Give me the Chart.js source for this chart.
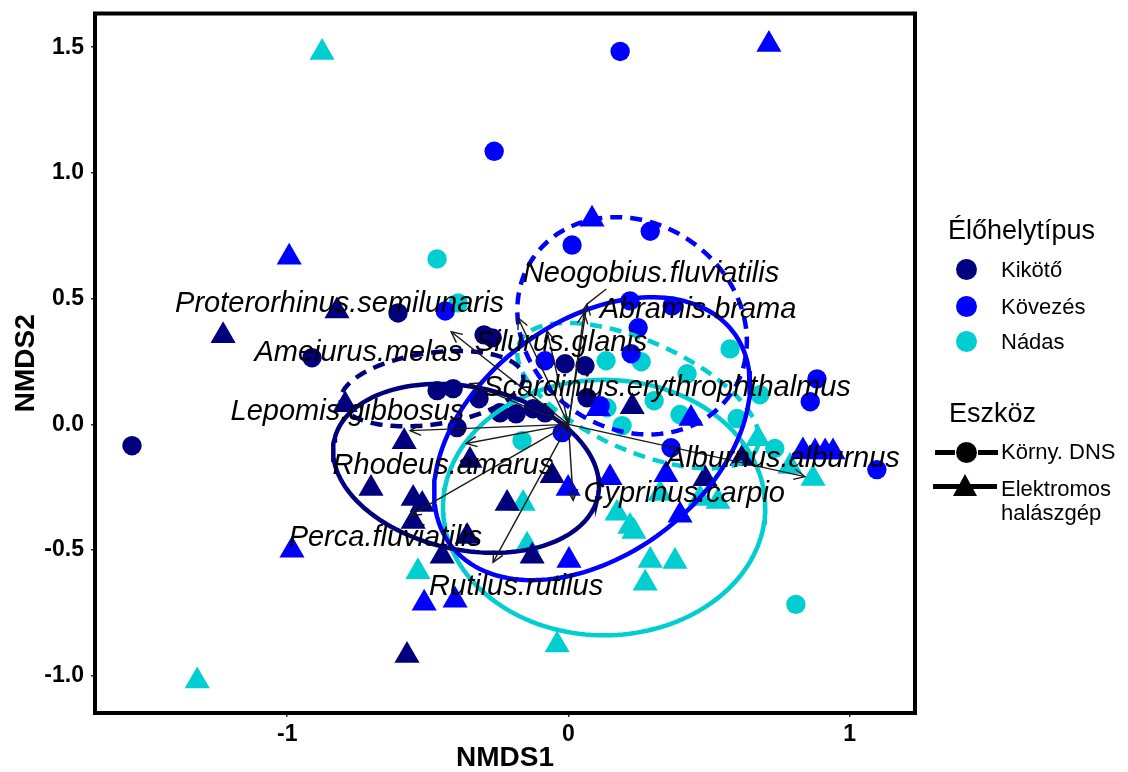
<!DOCTYPE html>
<html>
<head>
<meta charset="utf-8">
<script src="https://cdn.jsdelivr.net/npm/chart.js@4.4.1/dist/chart.umd.min.js"></script>
<style>
html,body{margin:0;padding:0;background:#fff;}
#wrap{position:relative;width:1128px;height:772px;overflow:hidden;}
#c{position:absolute;left:0;top:0;}
.lg{position:absolute;font-family:"Liberation Sans",Arial,sans-serif;color:#000;white-space:nowrap;}
.lt{font-size:27px;line-height:28px;}
.li{font-size:22px;line-height:24px;}
.dot{position:absolute;width:21px;height:21px;border-radius:50%;}
.bar{position:absolute;height:5px;background:#000;}
.tri{position:absolute;width:0;height:0;border-left:12.5px solid transparent;border-right:12.5px solid transparent;border-bottom:22px solid #000;}
</style>
</head>
<body>
<div id="wrap">
<canvas id="c" width="1128" height="772"></canvas>
<div class="lg lt" style="left:948px;top:216px;">Élőhelytípus</div>
<div class="dot" style="left:956px;top:259px;background:#00007f;"></div>
<div class="lg li" style="left:1001px;top:258px;">Kikötő</div>
<div class="dot" style="left:956px;top:296px;background:#0000ff;"></div>
<div class="lg li" style="left:1001px;top:295px;">Kövezés</div>
<div class="dot" style="left:956px;top:331px;background:#00ced1;"></div>
<div class="lg li" style="left:1001px;top:330px;">Nádas</div>
<div class="lg lt" style="left:949px;top:399px;">Eszköz</div>
<div class="bar" style="left:935px;top:450px;width:20px;"></div>
<div class="dot" style="left:956px;top:442px;background:#000;"></div>
<div class="bar" style="left:978px;top:450px;width:20px;"></div>
<div class="lg li" style="left:1001px;top:440px;">Körny. DNS</div>
<div class="bar" style="left:933px;top:484px;width:64px;"></div>
<div class="tri" style="left:953px;top:474px;"></div>
<div class="lg li" style="left:1001px;top:477px;">Elektromos</div>
<div class="lg li" style="left:1001px;top:501px;">halászgép</div>
</div>
<script>
// ---------------- DATA ----------------
const habitats = ['Kikötő', 'Kövezés', 'Nádas'];
const tools = ['Körny. DNS', 'Elektromos halászgép'];

// Kikötő – környezeti DNS (circles)
const kikotoDnsX = [-1.552,-0.912,-0.606,-0.300,-0.271,-0.467,-0.410,-0.318,-0.396,-0.243,-0.186,-0.126,-0.012,0.059,-0.083,0.066];
const kikotoDnsY = [-0.085,0.265,0.443,0.356,0.344,0.134,0.142,0.102,-0.013,0.046,0.042,0.062,0.241,0.233,0.046,0.106];
// Kövezés – környezeti DNS
const kovezesDnsX = [0.184,-0.264,0.291,0.013,-0.438,0.219,0.369,0.248,0.223,-0.083,-0.022,0.365,0.884,0.860,1.097,0.113];
const kovezesDnsY = [1.483,1.086,0.768,0.713,0.451,0.491,0.471,0.384,0.281,0.253,-0.033,-0.093,0.181,0.090,-0.180,0.074];
// Nádas – környezeti DNS
const nadasDnsX = [-0.467,-0.392,0.134,0.259,0.575,0.422,0.681,0.305,0.397,0.600,0.137,0.191,-0.165,0.809,0.734];
const nadasDnsY = [0.658,0.483,0.253,0.249,0.300,0.201,0.118,0.094,0.039,0.023,0.066,-0.005,-0.065,-0.716,-0.096];

// Kikötő – elektromos halászgép (triangles)
const kikotoElX = [-1.228,-0.823,-0.794,-0.584,-0.702,-0.552,-0.520,-0.552,-0.449,-0.360,-0.350,-0.058,-0.218,-0.129,-0.574,0.227,0.486,0.617];
const kikotoElY = [0.352,0.451,0.078,-0.069,-0.255,-0.295,-0.319,-0.386,-0.525,-0.446,-0.144,-0.204,-0.315,-0.525,-0.919,0.070,-0.216,-0.136];
// Kövezés – elektromos halászgép
const kovezesElX = [0.713,0.084,-0.993,-0.983,-0.513,-0.403,-0.001,0.148,0.002,0.347,0.397,0.436,0.106,0.834,0.877,0.913,0.941];
const kovezesElY = [1.511,0.816,0.665,-0.501,-0.711,-0.700,-0.255,-0.212,-0.541,-0.200,-0.362,0.023,0.062,-0.106,-0.110,-0.110,-0.110];
// Nádas – elektromos halászgép
const nadasElX = [-0.876,-1.320,-0.535,-0.161,-0.147,-0.040,0.173,0.219,0.273,0.291,0.379,0.326,0.468,0.532,0.674,0.788,0.870,0.233];
const nadasElY = [1.479,-1.021,-0.586,-0.315,-0.481,-0.878,-0.354,-0.406,-0.632,-0.541,-0.545,-0.275,-0.295,-0.307,-0.057,-0.168,-0.215,-0.426];

// Species fitted vectors (arrow tips) and their repelled label positions
const species = ['Neogobius.fluviatilis','Abramis.brama','Silurus.glanis','Proterorhinus.semilunaris','Ameiurus.melas','Scardinius.erythrophthalmus','Lepomis.gibbosus','Rhodeus.amarus','Perca.fluviatilis','Rutilus.rutilus','Cyprinus.carpio','Alburnus.alburnus'];
const arrowX = [0.066,0.056,-0.076,-0.179,-0.417,-0.350,-0.563,-0.364,-0.563,-0.268,0.017,0.841];
const arrowY = [0.478,0.443,0.372,0.423,0.368,0.162,-0.025,-0.076,-0.362,-0.549,-0.302,-0.208];
const labelX = [0.294,0.461,-0.026,-0.814,-0.747,0.351,-0.786,-0.446,-0.651,-0.186,0.412,0.763];
const labelY = [0.598,0.455,0.324,0.479,0.285,0.146,0.050,-0.164,-0.450,-0.648,-0.275,-0.136];
const labelSegment = [true,false,false,false,false,false,false,false,false,false,false,false];

// 95% ellipses: centre and two conjugate semi-axis vectors (NMDS units)
const ellipseNames = ['Kikötő DNS','Kikötő El','Kövezés DNS','Kövezés El','Nádas DNS','Nádas El'];
const ellCx = [-0.485,-0.364,0.2265,0.084,0.248,0.127];
const ellCy = [0.142,-0.175,0.392,-0.057,0.114,-0.331];
const ellUx = [0.324,0.469,0.350,0.503,0.4225,0.573];
const ellUy = [0.051,-0.111,-0.273,0.423,-0.210,0.0];
const ellVx = [0.018,-0.060,-0.210,0.250,-0.0797,0.0];
const ellVy = [-0.141,-0.317,-0.335,-0.371,-0.199,0.508];

const xTickVals = [-1, 0, 1];
const yTickVals = [-1.0, -0.5, 0.0, 0.5, 1.0, 1.5];

// ---------------- STYLE ----------------
const COLORS = ['#00007f', '#0000ff', '#00ced1'];
const FONT = '"Liberation Sans", Arial, sans-serif';

function pts(xs, ys){ return xs.map((v,i)=>({x:v, y:ys[i]})); }
function ellipse(i){
  const out=[]; const n=160;
  for(let k=0;k<=n;k++){
    const t=2*Math.PI*k/n;
    out.push({x:ellCx[i]+ellUx[i]*Math.cos(t)+ellVx[i]*Math.sin(t),
              y:ellCy[i]+ellUy[i]*Math.cos(t)+ellVy[i]*Math.sin(t)});
  }
  return out;
}

const pointSets = [
  [kikotoElX,kikotoElY,0,'triangle'],[kovezesElX,kovezesElY,1,'triangle'],[nadasElX,nadasElY,2,'triangle'],
  [kikotoDnsX,kikotoDnsY,0,'circle'],[kovezesDnsX,kovezesDnsY,1,'circle'],[nadasDnsX,nadasDnsY,2,'circle']
];
const datasets = [];
pointSets.forEach(([xs,ys,h,shape])=>{
  datasets.push({
    label: habitats[h] + ' – ' + (shape==='circle'?tools[0]:tools[1]),
    data: pts(xs,ys), pointStyle: shape,
    pointRadius: shape==='circle'?9.7:14.5, pointHoverRadius: shape==='circle'?9.7:14.5,
    backgroundColor: COLORS[h], borderColor: COLORS[h], pointBorderWidth: 0, borderWidth:0,
    showLine:false, order:2
  });
});
for(let i=0;i<6;i++){
  const h = Math.floor(i/2); const dashed = (i%2===0);
  datasets.push({
    label: ellipseNames[i], data: ellipse(i), showLine:true, pointRadius:0, pointHoverRadius:0,
    borderColor: COLORS[h], borderWidth: 4.5, borderDash: dashed?[12,8]:[], fill:false, tension:0, order:1
  });
}

const overlay = {
  id:'overlay',
  afterDatasetsDraw(chart){
    const {ctx, chartArea:a, scales:{x,y}} = chart;
    ctx.save();
    const ox=x.getPixelForValue(0), oy=y.getPixelForValue(0);
    ctx.strokeStyle='#1a1a1a'; ctx.lineWidth=1.4; ctx.lineCap='butt';
    for(let i=0;i<species.length;i++){
      const tx=x.getPixelForValue(arrowX[i]), ty=y.getPixelForValue(arrowY[i]);
      ctx.beginPath(); ctx.moveTo(ox,oy); ctx.lineTo(tx,ty); ctx.stroke();
      const ang=Math.atan2(ty-oy,tx-ox), L=12, w=0.45;
      ctx.beginPath();
      ctx.moveTo(tx-L*Math.cos(ang-w), ty-L*Math.sin(ang-w));
      ctx.lineTo(tx,ty);
      ctx.lineTo(tx-L*Math.cos(ang+w), ty-L*Math.sin(ang+w));
      ctx.stroke();
    }
    ctx.font='italic 29px '+FONT; ctx.textAlign='center'; ctx.textBaseline='middle'; ctx.fillStyle='#000';
    for(let i=0;i<species.length;i++){
      const lx=x.getPixelForValue(labelX[i]), ly=y.getPixelForValue(labelY[i]);
      if(labelSegment[i]){
        const tx=x.getPixelForValue(arrowX[i]), ty=y.getPixelForValue(arrowY[i]);
        const hh=15; const t=((ty-ly)-hh)/(ty-ly);
        ctx.beginPath(); ctx.moveTo(tx,ty); ctx.lineTo(tx+(lx-tx)*t*0.6, ty+(ly-ty)*t); ctx.stroke();
      }
      ctx.fillText(species[i], lx, ly);
    }
    ctx.lineWidth=4; ctx.strokeStyle='#000';
    ctx.strokeRect(a.left-1, a.top-1, a.right-a.left+2, a.bottom-a.top+2);
    ctx.restore();
  }
};

Chart.defaults.font.family = FONT;
new Chart(document.getElementById('c'), {
  type:'scatter',
  data:{datasets},
  options:{
    responsive:false, animation:false, devicePixelRatio:1,
    layout:{padding:{left:0,right:214,top:13,bottom:0}},
    plugins:{legend:{display:false}, tooltip:{enabled:false}},
    scales:{
      x:{type:'linear', min:-1.68, max:1.229,
        afterBuildTicks:s=>{ s.ticks = xTickVals.map(v=>({value:v})); },
        afterFit:s=>{ s.height=60; s.paddingLeft=0; s.paddingRight=0; },
        ticks:{color:'#000', padding:4, font:{size:23, weight:'bold'}, callback:v=>String(v)},
        grid:{drawOnChartArea:false, drawTicks:true, tickLength:5, color:'#333', lineWidth:1.5},
        border:{display:false},
        title:{display:true, text:'NMDS1', color:'#000', font:{size:28, weight:'bold', lineHeight:1.0}, padding:{top:0,bottom:0}}
      },
      y:{type:'linear', min:-1.144, max:1.63,
        afterBuildTicks:s=>{ s.ticks = yTickVals.map(v=>({value:v})); },
        afterFit:s=>{ s.width=96; s.paddingTop=0; s.paddingBottom=0; },
        ticks:{color:'#000', padding:7, font:{size:23, weight:'bold'}, callback:v=>Number(v).toFixed(1)},
        grid:{drawOnChartArea:false, drawTicks:true, tickLength:5, color:'#333', lineWidth:1.5},
        border:{display:false},
        title:{display:true, text:'NMDS2', color:'#000', font:{size:28, weight:'bold', lineHeight:1.0}, padding:{top:12,bottom:0}}
      }
    }
  },
  plugins:[overlay]
});
</script>
</body>
</html>
